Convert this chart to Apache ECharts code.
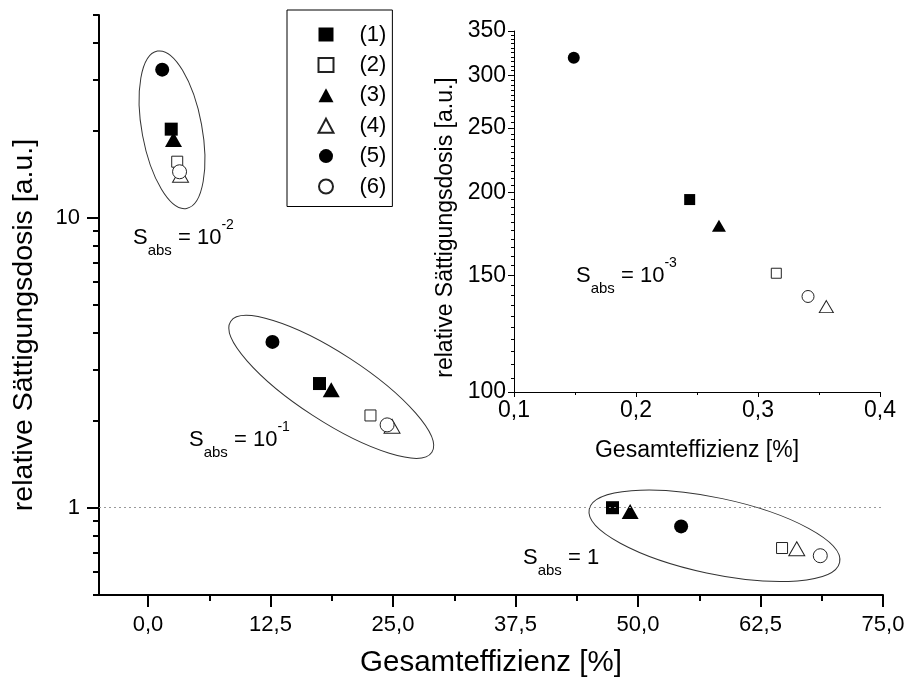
<!DOCTYPE html>
<html>
<head>
<meta charset="utf-8">
<script src="https://cdn.jsdelivr.net/npm/echarts@6/dist/echarts.min.js"></script>
<style>
  html, body { margin: 0; padding: 0; background: #fff; }
  #chart { width: 909px; height: 688px; }
</style>
</head>
<body>
<div id="chart"></div>
<script>
// Samples (1)..(6)
const sampleNames = ['(1)', '(2)', '(3)', '(4)', '(5)', '(6)'];

// Gesamteffizienz [%] / relative Sättigungsdosis per sample, S_abs = 10^-2
const effAbs1e2  = [2.37, 2.98, 2.60, 3.32, 1.45, 3.22];
const doseAbs1e2 = [20.2, 15.6, 18.6, 14.0, 32.4, 14.4];
// S_abs = 10^-1
const effAbs1e1  = [17.5, 22.7, 18.7, 24.9, 12.7, 24.4];
const doseAbs1e1 = [2.68, 2.08, 2.55, 1.91, 3.73, 1.93];
// S_abs = 1
const effAbs1    = [47.4, 64.7, 49.2, 66.2, 54.4, 68.6];
const doseAbs1   = [1.0, 0.726, 0.971, 0.722, 0.862, 0.683];
// S_abs = 10^-3 (inset)
const effAbs1e3  = [0.244, 0.315, 0.268, 0.356, 0.149, 0.341];
const doseAbs1e3 = [195, 151, 178, 134.5, 319, 139.3];

// Tick values
const mainXTicks  = [0, 12.5, 25, 37.5, 50, 62.5, 75];
const mainXMinor  = [6.25, 18.75, 31.25, 43.75, 56.25, 68.75];
const mainYTicks  = [1, 10];
const mainYMinor  = [0.5, 0.6, 0.7, 0.8, 0.9, 2, 3, 4, 5, 6, 7, 8, 9, 20, 30, 40, 50];
const insetYTicks = [100, 150, 200, 250, 300, 350];
const insetYMinor = [];
for (let v = 105; v < 350; v += 5) { if (v % 50 !== 0) insetYMinor.push(v); }

// Marker appearance per sample
const symbolKinds = ['rect', 'rect', 'triangle', 'triangle', 'circle', 'circle'];
const symbolFilled = [true, false, true, false, true, false];
const mainSizes  = { rect: [13, 11], triangle: [[17, 15], [16, 14]], circle: [14, 14] };
const insetSizes = { rect: [11, 10], triangle: [[14, 12], [14, 12]], circle: [12, 12] };

// Outlines around each S_abs group: centre in data units, radii in px, tilt in degrees
const groupOutlines = [
  [2.45, 20.1, 80, 30, 79.5],
  [18.7, 2.61, 120, 34, 33],
  [57.8, 0.80, 128, 38, 12]
];

const FONT = '"Liberation Sans", Arial, Helvetica, sans-serif';
const commaFmt = v => Number(v).toFixed(1).replace('.', ',');

function sizeFor(table, i) {
  return table[symbolKinds[i]][symbolFilled[i] ? 0 : 1];
}
function itemStyleFor(i) {
  return symbolFilled[i]
    ? { color: '#000', borderWidth: 0, opacity: 1 }
    : { color: '#fff', borderColor: '#222', borderWidth: 1, opacity: 1 };
}

const series = [];
sampleNames.forEach((name, i) => {
  series.push({
    name, type: 'scatter', xAxisIndex: 0, yAxisIndex: 0, z: 4,
    symbol: symbolKinds[i], symbolSize: sizeFor(mainSizes, i),
    itemStyle: itemStyleFor(i),
    data: [
      [effAbs1e2[i], doseAbs1e2[i]],
      [effAbs1e1[i], doseAbs1e1[i]],
      [effAbs1[i], doseAbs1[i]]
    ]
  });
});
sampleNames.forEach((name, i) => {
  series.push({
    name, type: 'scatter', xAxisIndex: 2, yAxisIndex: 2, z: 4,
    symbol: symbolKinds[i], symbolSize: sizeFor(insetSizes, i),
    itemStyle: itemStyleFor(i),
    data: [[effAbs1e3[i], doseAbs1e3[i]]]
  });
});
series.push({
  name: 'outlines', type: 'custom', xAxisIndex: 0, yAxisIndex: 0, z: 2, silent: true,
  data: groupOutlines,
  renderItem: (params, api) => {
    const c = api.coord([api.value(0), api.value(1)]);
    return {
      type: 'ellipse', x: c[0], y: c[1],
      rotation: -api.value(4) * Math.PI / 180,
      shape: { cx: 0, cy: 0, rx: api.value(2), ry: api.value(3) },
      style: { fill: 'none', stroke: '#333', lineWidth: 1 }
    };
  },
  markLine: {
    silent: true, symbol: 'none', label: { show: false },
    lineStyle: { type: [2, 3], color: '#999', width: 1 },
    data: [{ yAxis: 1 }]
  }
});

function sAbsText(x, y, power) {
  const tail = power === null ? '{e| = 1}' : '{e| = 10}{p|' + power + '}';
  return {
    type: 'text', x, y, z: 10,
    style: {
      text: '{s|S}{b|abs}' + tail,
      fill: '#000', align: 'left', verticalAlign: 'middle',
      rich: {
        s: { fontSize: 22, lineHeight: 40, fontFamily: FONT, fill: '#000' },
        b: { fontSize: 15, lineHeight: 15, verticalAlign: 'bottom', fontFamily: FONT, fill: '#000' },
        e: { fontSize: 22, lineHeight: 40, fontFamily: FONT, fill: '#000' },
        p: { fontSize: 14, lineHeight: 26, verticalAlign: 'top', fontFamily: FONT, fill: '#000' }
      }
    }
  };
}

const mainTickLabel  = { fontSize: 22, color: '#000', fontFamily: FONT };
const insetTickLabel = { fontSize: 23, color: '#000', fontFamily: FONT };

const option = {
  backgroundColor: '#fff',
  animation: false,
  grid: [
    { left: 99, right: 26, top: 15, bottom: 93 },
    { left: 514, right: 29, top: 31, bottom: 296 }
  ],
  legend: {
    orient: 'vertical', left: 287, top: 10,
    padding: [13.5, 6, 9, 30.5],
    itemWidth: 15, itemHeight: 14, itemGap: 8.4,
    borderColor: '#000', borderWidth: 1,
    selectedMode: false,
    formatter: name => '{t|' + name + '}',
    textStyle: {
      color: '#000', fontFamily: FONT, fontSize: 22,
      rich: { t: { fontSize: 22, lineHeight: 20, padding: [0, 0, 0, 21], color: '#000', fontFamily: FONT } }
    },
    data: sampleNames
  },
  xAxis: [
    {
      gridIndex: 0, type: 'value', min: -5, max: 75, position: 'bottom',
      axisLine: { onZero: false, lineStyle: { color: '#000', width: 2 } },
      axisTick: { customValues: mainXTicks, length: 12, lineStyle: { color: '#000', width: 2 } },
      axisLabel: { customValues: mainXTicks, formatter: commaFmt, margin: 19, ...mainTickLabel },
      splitLine: { show: false },
      name: 'Gesamteffizienz [%]', nameLocation: 'middle', nameGap: 53,
      nameTextStyle: { fontSize: 29.5, color: '#000', fontFamily: FONT }
    },
    {
      gridIndex: 0, type: 'value', min: -5, max: 75, position: 'bottom',
      axisLine: { show: false, onZero: false },
      axisTick: { customValues: mainXMinor, length: 6, lineStyle: { color: '#000', width: 2 } },
      axisLabel: { show: false },
      splitLine: { show: false }
    },
    {
      gridIndex: 1, type: 'value', min: 0.1, max: 0.4, interval: 0.1, position: 'bottom',
      axisLine: { onZero: false, lineStyle: { color: '#000', width: 1 } },
      axisTick: { length: 5, lineStyle: { color: '#000', width: 1 } },
      minorTick: { show: true, splitNumber: 2, length: 3, lineStyle: { color: '#000', width: 1 } },
      axisLabel: { formatter: commaFmt, margin: 7, ...insetTickLabel },
      splitLine: { show: false },
      name: 'Gesamteffizienz [%]', nameLocation: 'middle', nameGap: 47,
      nameTextStyle: { fontSize: 23, color: '#000', fontFamily: FONT }
    }
  ],
  yAxis: [
    {
      gridIndex: 0, type: 'log', logBase: 10, min: 0.5, max: 50, position: 'left',
      axisLine: { show: true, onZero: false, lineStyle: { color: '#000', width: 2 } },
      axisTick: { customValues: mainYTicks, length: 12, lineStyle: { color: '#000', width: 2 } },
      axisLabel: { customValues: mainYTicks, formatter: v => String(Math.round(v)), margin: 19, ...mainTickLabel },
      splitLine: { show: false },
      name: 'relative Sättigungsdosis [a.u.]', nameLocation: 'middle', nameGap: 60,
      nameTextStyle: { fontSize: 28.5, color: '#000', fontFamily: FONT, padding: [0, 40, 0, 0] }
    },
    {
      gridIndex: 0, type: 'log', logBase: 10, min: 0.5, max: 50, position: 'left',
      axisLine: { show: false, onZero: false },
      axisTick: { customValues: mainYMinor, length: 6, lineStyle: { color: '#000', width: 2 } },
      axisLabel: { show: false },
      splitLine: { show: false }
    },
    {
      gridIndex: 1, type: 'log', logBase: 10, min: 100, max: 350, position: 'left',
      axisLine: { show: true, onZero: false, lineStyle: { color: '#000', width: 1 } },
      axisTick: { customValues: insetYTicks, length: 6, lineStyle: { color: '#000', width: 1 } },
      axisLabel: { customValues: insetYTicks, formatter: v => String(Math.round(v)), margin: 8, ...insetTickLabel },
      splitLine: { show: false },
      name: 'relative Sättigungsdosis [a.u.]', nameLocation: 'middle', nameGap: 57,
      nameTextStyle: { fontSize: 23, color: '#000', fontFamily: FONT, padding: [0, 32, 0, 0] }
    },
    {
      gridIndex: 1, type: 'log', logBase: 10, min: 100, max: 350, position: 'left',
      axisLine: { show: false, onZero: false },
      axisTick: { customValues: insetYMinor, length: 3, lineStyle: { color: '#000', width: 1 } },
      axisLabel: { show: false },
      splitLine: { show: false }
    }
  ],
  graphic: [
    sAbsText(133, 238, '-2'),
    sAbsText(189, 440, '-1'),
    sAbsText(523, 558, null),
    sAbsText(576, 276, '-3')
  ],
  series
};

const chart = echarts.init(document.getElementById('chart'), null, { renderer: 'canvas' });
chart.setOption(option);
</script>
</body>
</html>
